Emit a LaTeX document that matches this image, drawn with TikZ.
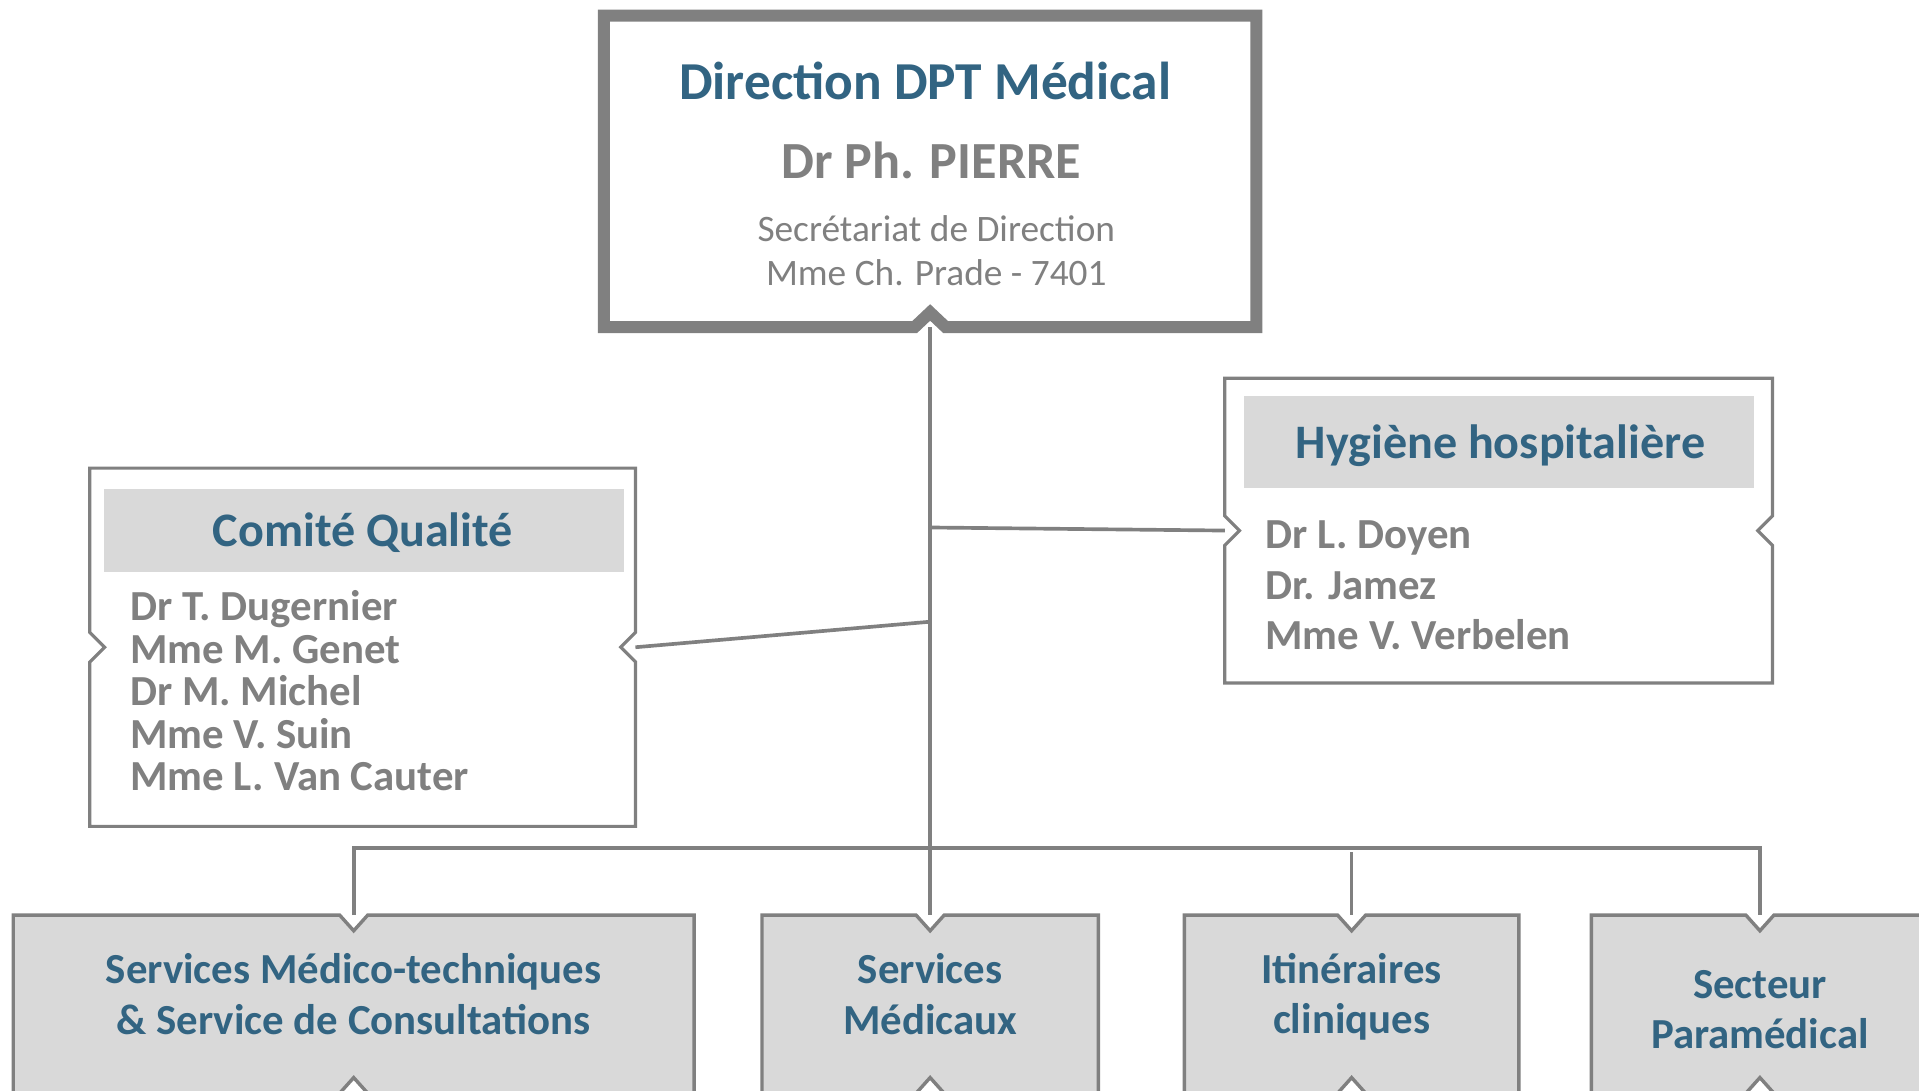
\documentclass[tikz,border=0pt]{standalone}
\usepackage{fontspec}
\setmainfont{Carlito}
\definecolor{linegray}{RGB}{128,128,128}
\definecolor{bandgray}{RGB}{217,217,217}
\definecolor{titleblue}{RGB}{50,100,130}

\begin{document}
\begin{tikzpicture}[x=1pt, y=-1pt,
    place/.style={rectangle, inner sep=0pt, draw=none},
    band/.style={rectangle, inner sep=0pt, fill=bandgray},
    conn/.style={draw=linegray, line width=3pt},
    boxline/.style={draw=linegray, line width=2.6pt, fill=white},
    lowline/.style={draw=linegray, line width=2.8pt, fill=bandgray},
    titletext/.style={anchor=base, text=titleblue, font=\bfseries\fontsize{39.3}{39.3}\selectfont},
    nametext/.style={anchor=base west, text=linegray, font=\bfseries\fontsize{35}{35}\selectfont},
    lowtext/.style={anchor=base, text=titleblue, font=\bfseries\fontsize{35}{35}\selectfont}]

  \useasboundingbox (0,0) rectangle (1568,891);
  \clip (0,0) rectangle (1568,891);

  % Direction
  \node[place, minimum width=532.6, minimum height=254.2] (dir) at (760,140) {};
  \draw[draw=linegray, line width=9.8pt, fill=white] (dir.north west) -- (dir.north east) -- (dir.south east)
      -- ([xshift=12.7pt]dir.south) -- ([yshift=12pt]dir.south) -- ([xshift=-12.7pt]dir.south)
      -- (dir.south west) -- cycle;
  \node[anchor=base, text=titleblue, font=\bfseries\fontsize{43.6}{43.6}\selectfont] (dir-title) at (756,81) {Direction DPT Médical};
  \node[anchor=base, text=linegray, font=\bfseries\fontsize{42.6}{42.6}\selectfont] (dir-head) at (761,145.6) {Dr Ph. PIERRE};
  \node[anchor=base, text=linegray, font=\fontsize{30.5}{30.5}\selectfont] (dir-sec) at (765,197.5) {Secrétariat de Direction};
  \node[anchor=base, text=linegray, font=\fontsize{30.5}{30.5}\selectfont] (dir-tel) at (765,233.5) {Mme Ch. Prade - 7401};

  % Comite qualite
  \node[place, minimum width=445.4, minimum height=292.3] (cq) at (296.3,528.85) {};
  \draw[boxline] (cq.north west) -- (cq.north east) -- ([yshift=12pt]cq.east) -- ([xshift=-12pt]cq.east)
      -- ([yshift=-12pt]cq.east) -- (cq.south east) -- (cq.south west) -- ([yshift=-12pt]cq.west)
      -- ([xshift=12pt]cq.west) -- ([yshift=12pt]cq.west) -- cycle;
  \node[band, minimum width=424.7, minimum height=67.3] (cq-band) at (297.6,433.5) {};
  \node[titletext] (cq-title) at (296.5,446.7) {Comité Qualité};
  \foreach \m [count=\i] in {Dr T. Dugernier, Mme M. Genet, Dr M. Michel, Mme V. Suin, Mme L. Van Cauter}
      \node[nametext] (cq-\i) at (103,472.25+34.75*\i) {\m};

  % Hygiene hospitaliere
  \node[place, minimum width=447.1, minimum height=248.6] (hh) at (1224.5,433.5) {};
  \draw[boxline] (hh.north west) -- (hh.north east) -- ([yshift=12pt]hh.east) -- ([xshift=-12pt]hh.east)
      -- ([yshift=-12pt]hh.east) -- (hh.south east) -- (hh.south west) -- ([yshift=-12pt]hh.west)
      -- ([xshift=12pt]hh.west) -- ([yshift=12pt]hh.west) -- cycle;
  \node[band, minimum width=416.5, minimum height=75.4] (hh-band) at (1224.75,361.3) {};
  \node[titletext] (hh-title) at (1226,374.5) {Hygiène hospitalière};
  \foreach \m [count=\i] in {Dr L. Doyen, Dr. Jamez, Mme V. Verbelen}
      \node[nametext] (hh-\i) at (1030.5,406.5+41.5*\i) {\m};

  % Services
  \foreach \n/\cx/\w/\ya/\la/\lb in {smt/289/556/804/Services Médico-techniques/\& Service de Consultations,
                                     sm/760/274.4/804/Services/Médicaux,
                                     ic/1104.4/273/803.5/Itinéraires/cliniques,
                                     sp/1438/275/815.8/Secteur/Paramédical} {
      \node[place, minimum width=\w, minimum height=145] (\n) at (\cx,820.5) {};
      \draw[lowline] (\n.north west) -- ([xshift=-11.4pt]\n.north) -- ([yshift=-12.7pt]\n.north)
          -- ([xshift=11.4pt]\n.north) -- (\n.north east) -- (\n.south east) -- ([xshift=11.4pt]\n.south)
          -- ([yshift=12.7pt]\n.south) -- ([xshift=-11.4pt]\n.south) -- (\n.south west) -- cycle;
      \node[lowtext] (\n-a) at (\cx,\ya) {\la};
      \node[lowtext] (\n-b) at (\cx,\ya+41.2) {\lb};
  }

  % Connexions
  \coordinate (bar) at (760,692.7);
  \coordinate (jq) at (760,508);
  \coordinate (jh) at (760,431);
  \coordinate (bar3) at (1104.4,696.5);
  \draw[conn] (dir.south) -- (sm.north);
  \draw[conn] (cq.east) -- (jq);
  \draw[conn] (jh) -- (hh.west);
  \draw[conn] (smt.north) -- (smt.north |- bar) -- (sp.north |- bar) -- (sp.north);
  \draw[conn] (bar3) -- (ic.north);

\end{tikzpicture}
\end{document}
